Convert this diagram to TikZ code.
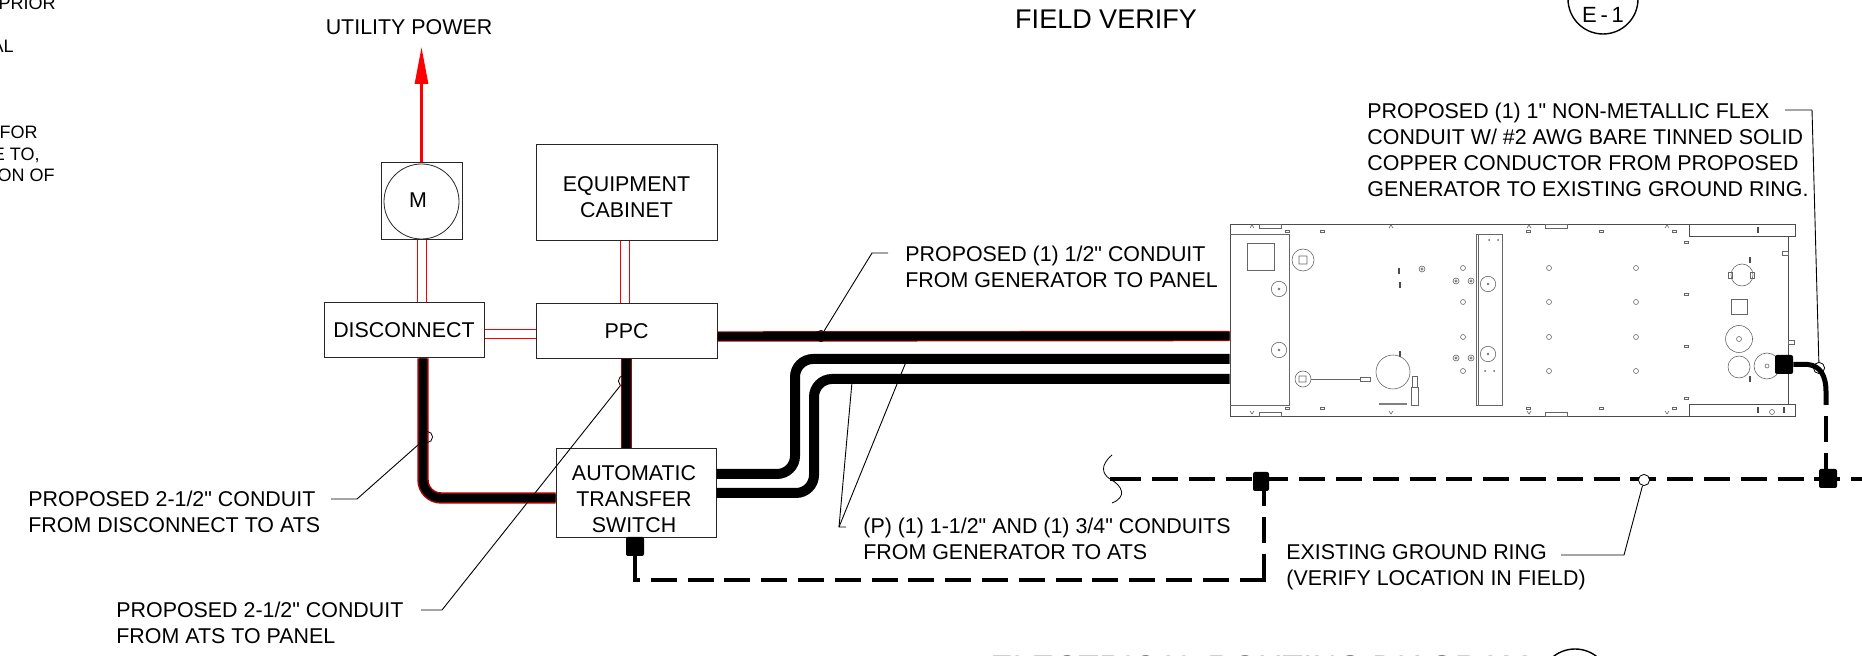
\documentclass[tikz,border=0pt]{standalone}
\usepackage{fontspec}
\setmainfont{Liberation Sans}[Ligatures=TeXOff]
\usetikzlibrary{
    positioning,
    calc,
    arrows.meta,
    shapes.geometric
}
\tikzset{
  note/.style = {
      font=\fontsize{10.7}{13.1}\selectfont,
      align=left,
      inner sep=0pt
  },
  box/.style = {
      draw=black!85,
      line width=.5pt,
      rectangle,
      inner sep=0pt,
      font=\fontsize{10.7}{13.1}\selectfont,
      align=center
  },
  feeder/.style = {
      draw=red,
      line width=.5pt
  },
  conduit/.style = {
      draw=red!70!black,
      double=black,
      line width=.5pt,
      double distance=4.2pt
  },
  bare/.style = {
      draw=black,
      line width=5pt,
      rounded corners=9pt
  },
  ground/.style = {
      draw=black,
      line width=2.3pt,
      dash pattern=on 13pt off 5.4pt
  },
  clamp/.style = {
      fill=black,
      rounded corners=1pt,
      inner sep=0pt,
      minimum width=9pt,
      minimum height=9.5pt
  },
  tap/.style = {
      draw=black,
      circle,
      line width=.4pt,
      inner sep=0pt,
      minimum size=5.6pt
  },
  leader/.style = {
      draw=black,
      line width=.45pt
  },
  part/.style = {
      draw=black!60,
      line width=.3pt
  }
}
\begin{document}
\begin{tikzpicture}[x=.5pt, y=-.5pt]
        \useasboundingbox (0,0) rectangle (1862,656);
        \clip (0,0) rectangle (1862,656);
        % Nodes
        \node[box, minimum width=90.5pt, minimum height=27.5pt] (ppc) at (626.5,331.5) {PPC};
        \node[box, minimum width=90.5pt, minimum height=48pt, above=31pt of ppc] (cabinet) {};
        \node[note, align=center] (cabinetText) at (626.5,197) {EQUIPMENT\\CABINET};
        \node[box, minimum width=80pt, minimum height=27.5pt, left=25.5pt of ppc, yshift=.5pt] (disc) {DISCONNECT};
        \node[box, minimum width=40.5pt, minimum height=38.5pt, above=31pt of disc, xshift=8.75pt] (motor) {};
        \node[draw=black!85, line width=.4pt, circle, minimum size=37.5pt, inner sep=0pt] (meter) at (motor.center) {};
        \node[note] (meterText) at (418,200) {M};
        \node[box, minimum width=80pt, minimum height=44.5pt, below=44.5pt of ppc, xshift=4.75pt] (ats) {};
        \node[note, align=center] (atsText) at (634,499) {AUTOMATIC\\TRANSFER\\SWITCH};
        \node[note] (utility) at (409,27) {UTILITY POWER};
        \node[note, font=\fontsize{13.5}{16}\selectfont] (verify) at (1106,19) {FIELD VERIFY};
        \node[draw=black, line width=.7pt, circle, minimum size=35pt, inner sep=0pt] (detailA) at (1603,-1) {};
        \node[note, font=\fontsize{11}{13}\selectfont] (detailText) at (1603,15) {E\,-\,1};
        \node[note, font=\fontsize{16.85}{20}\selectfont, anchor=base west] (title) at (990,679) {ELECTRICAL ROUTING DIAGRAM};
        \node[draw=black, line width=.7pt, circle, minimum size=35pt, inner sep=0pt] (detailB) at (1575,684) {};
        % Cut off notes
        \foreach \txt/\xe/\ye in {PRIOR/56/10, AL/14/53, I/1/95, FOR/38/139, {E TO,}/40/161, ON OF/55/182}
            \node[note, font=\fontsize{9}{10}\selectfont, anchor=base east] at (\xe,\ye) {\txt};
        % Labels
        \node[note, anchor=west] (lblPanel) at (905,267) {PROPOSED (1) 1/2" CONDUIT\\FROM GENERATOR TO PANEL};
        \node[note, anchor=west] (lblFlex) at (1367,150) {PROPOSED (1) 1" NON-METALLIC FLEX\\CONDUIT W/ \#2 AWG BARE TINNED SOLID\\COPPER CONDUCTOR FROM PROPOSED\\GENERATOR TO EXISTING GROUND RING.};
        \node[note, anchor=west] (lblDisc) at (28,512) {PROPOSED 2-1/2" CONDUIT\\FROM DISCONNECT TO ATS};
        \node[note, anchor=west] (lblAts) at (116,623) {PROPOSED 2-1/2" CONDUIT\\FROM ATS TO PANEL};
        \node[note, anchor=west] (lblGen) at (863,539) {(P) (1) 1-1/2" AND (1) 3/4" CONDUITS\\FROM GENERATOR TO ATS};
        \node[note, anchor=west] (lblRing) at (1286,567) {EXISTING GROUND RING\\(VERIFY LOCATION IN FIELD)};
        % Generator
        \node[minimum width=282.5pt, minimum height=96pt, inner sep=0pt] (gen) at (1512.5,320) {};
        \path[draw=black!70, line width=.45pt] (1788,236) -- (1788,404) (1795,404) -- (1795,416) -- (1230,416) -- (1230,224) -- (1795,224) -- (1795,236) -- (1689,236) -- (1689,224) (1689,404) -- (1795,404) (1689,404) -- (1689,416);
        \draw[part] (1230,234) -- (1289,234) -- (1289,405) -- (1230,405);
        \draw[part] (1247,243) rectangle (1274,270);
        \draw[part] (1476,234) rectangle (1502,405) (1478,234) -- (1478,405);
        \draw[part] (1731,299) rectangle (1747,314);
        \draw[part] (1303,260) circle (11) (1299,256) rectangle (1307,264);
        \draw[part] (1393,372) circle (17);
        \draw[part] (1303,379) circle (8) (1299,376) rectangle (1306,382);
        \draw[part] (1311,379) -- (1360,379) (1360,377) rectangle (1370,381);
        \draw[part] (1411,387) rectangle (1418,405) (1412,387) -- (1412,376) -- (1417,376) -- (1417,387);
        \draw[draw=black!50, line width=.8pt] (1379,404) -- (1407,404);
        \draw[part] (1742,275) circle (11) (1739,339) circle (13.5) (1739,339) circle (2.5) (1739,367) circle (11) (1767,366) circle (13) (1767,366) circle (2);
        \foreach \x/\y in {1279/289, 1279/350, 1488/284, 1488/354}
            \draw[part] (\x,\y) circle (7.7) (\x,\y) circle (1);
        \foreach \x in {1463, 1549, 1636}
            \foreach \y in {268, 302, 337, 371}
                \draw[part] (\x,\y) circle (2.5);
        \foreach \x/\y in {1456/281, 1471/281, 1456/358, 1471/358, 1422/269}
            \draw[part] (\x,\y) circle (3) (\x,\y) circle (1.2);
        \foreach \x in {1259, 1545} {
            \draw[part] (\x,224) rectangle (\x+22,228);
            \draw[part] (\x,412) rectangle (\x+22,416);
        }
        \foreach \x in {1287, 1322, 1528, 1601, 1674} {
            \draw[part] (\x-2,230) rectangle (\x+2,232);
            \draw[part] (\x-2,407) rectangle (\x+2,409);
        }
        \foreach \y in {242, 294, 346, 398}
            \draw[part] (1684,\y-1) rectangle (1688,\y+1);
        \foreach \x in {1252, 1391, 1529, 1667} {
            \draw[part] (\x-2,228) -- (\x,225) -- (\x+2,228);
            \draw[part] (\x-2,411) -- (\x,414) -- (\x+2,411);
        }
        \foreach \x/\y in {1399/271, 1400/285, 1400/354, 1750/260, 1750/379, 1758/230, 1758/410, 1784/410}
            \draw[draw=black!70, line width=.7pt] (\x,\y-3) -- (\x,\y+3);
        \foreach \x/\y in {1489/240, 1498/240, 1485/371, 1494/371}
            \fill[black!60] (\x,\y) circle (1);
        \draw[part] (1772,412) circle (2.5);
        \draw[part] (1782,251) rectangle (1788,255) (1788,340) rectangle (1794,344) (1728,272) rectangle (1732,278) (1750,272) rectangle (1754,278);
        % Edges
        \coordinate (tip) at (motor.north |- 0,47);
        \draw[red, line width=1.4pt, -{Triangle[length=18.5pt,width=6.5pt]}] (motor.north) -- (tip);
        \foreach \s in {-4.5, 4.5} {
            \draw[feeder] ($(motor.south)+(\s,0)$) -- ($(motor.south |- disc.north)+(\s,0)$);
            \draw[feeder] ($(disc.east)+(0,4+\s)$) -- ($(disc.east -| ppc.west)+(0,4+\s)$);
            \draw[feeder] ($(cabinet.south)+(-2+\s,0)$) -- ($(ppc.north)+(-2+\s,0)$);
        }
        \draw[conduit] ($(ppc.east)+(0,5)$) -- ($(gen.west)+(0,16)$);
        \draw[conduit] (ppc.south) -- (ppc.south |- ats.north);
        \draw[conduit, line width=.75pt, rounded corners=9pt] ($(disc.south)+(19,0)$) |- ($(ats.west)+(0,4.5)$);
        \coordinate (bendA) at (795,474);
        \coordinate (bendB) at (814,493);
        \draw[bare] (ats.east |- bendA) -- (bendA) -- (bendA |- 0,359) -- ($(gen.west)+(0,39)$);
        \draw[bare] (ats.east |- bendB) -- (bendB) -- (bendB |- 0,379) -- ($(gen.west)+(0,59)$);
        % Ground ring
        \node[clamp, minimum width=8pt] (clampA) at (1261,481.5) {};
        \node[clamp] (clampB) at (1828,478.5) {};
        \node[clamp] (clampC) at (1784,364.5) {};
        \node[clamp] (clampD) at (635,546.5) {};
        \coordinate (breakMid) at (1110,479);
        \coordinate (ringStart) at (1115.2,479);
        \coordinate (ringEnd) at (1862,479);
        \draw[ground] (ringStart) -- (ringEnd);
        \draw[draw=black, line width=2.3pt] (breakMid) -- (ringStart);
        \draw[part, draw=black, line width=.4pt] (1112,455) .. controls (1100,465) and (1102,474) .. (breakMid) .. controls (1123,486) and (1127,497) .. (1112,503);
        \coordinate (tailA) at (1264,580);
        \coordinate (tailB) at (clampD.south |- tailA);
        \draw[ground, dash phase=5.5pt] ($(clampA.south)+(3,0)$) -- (tailA);
        \draw[ground] ($(tailA)+(1.5,0)$) -- (tailB);
        \draw[draw=black, line width=2.3pt] (clampD.south) -- ($(tailB)+(0,2.3)$);
        \coordinate (wireEnd) at (1826,405);
        \draw[draw=black, line width=2.5pt] (clampC.east) -- (1808,364.5) .. controls (1820,366) and (1826,375) .. (1826,392) -- (wireEnd);
        \draw[ground, dash phase=13pt] (wireEnd) -- (wireEnd |- clampB.north);
        % Leaders
        \node[tap] (tapA) at (821,336) {};
        \node[tap] (tapB) at (427,437) {};
        \node[tap] (tapC) at (624,381) {};
        \node[tap, minimum size=2pt] (tapD) at (852,382) {};
        \node[tap, minimum size=2pt] (tapE) at (908,357) {};
        \node[tap, fill=white] (tapF) at (1644,480) {};
        \node[tap] (tapG) at (1819,368) {};
        \coordinate (kneeA) at (872,253);
        \coordinate (kneeB) at (357,499);
        \coordinate (kneeC) at (442,610);
        \coordinate (kneeD) at (839,527);
        \coordinate (kneeF) at (1624,555);
        \coordinate (kneeG) at (1812,110);
        \draw[leader] (888,253) -- (kneeA) -- (tapA);
        \draw[leader] (331,499) -- (kneeB) -- (tapB);
        \draw[leader] (421,610) -- (kneeC) -- (tapC);
        \draw[leader] (846,527) -- (kneeD) -- (tapD);
        \draw[leader] (kneeD) -- (tapE);
        \draw[leader] (1561,555) -- (kneeF) -- (tapF);
        \draw[leader] (1785,110) -- (kneeG) -- (tapG);
    \end{tikzpicture}
\end{document}
